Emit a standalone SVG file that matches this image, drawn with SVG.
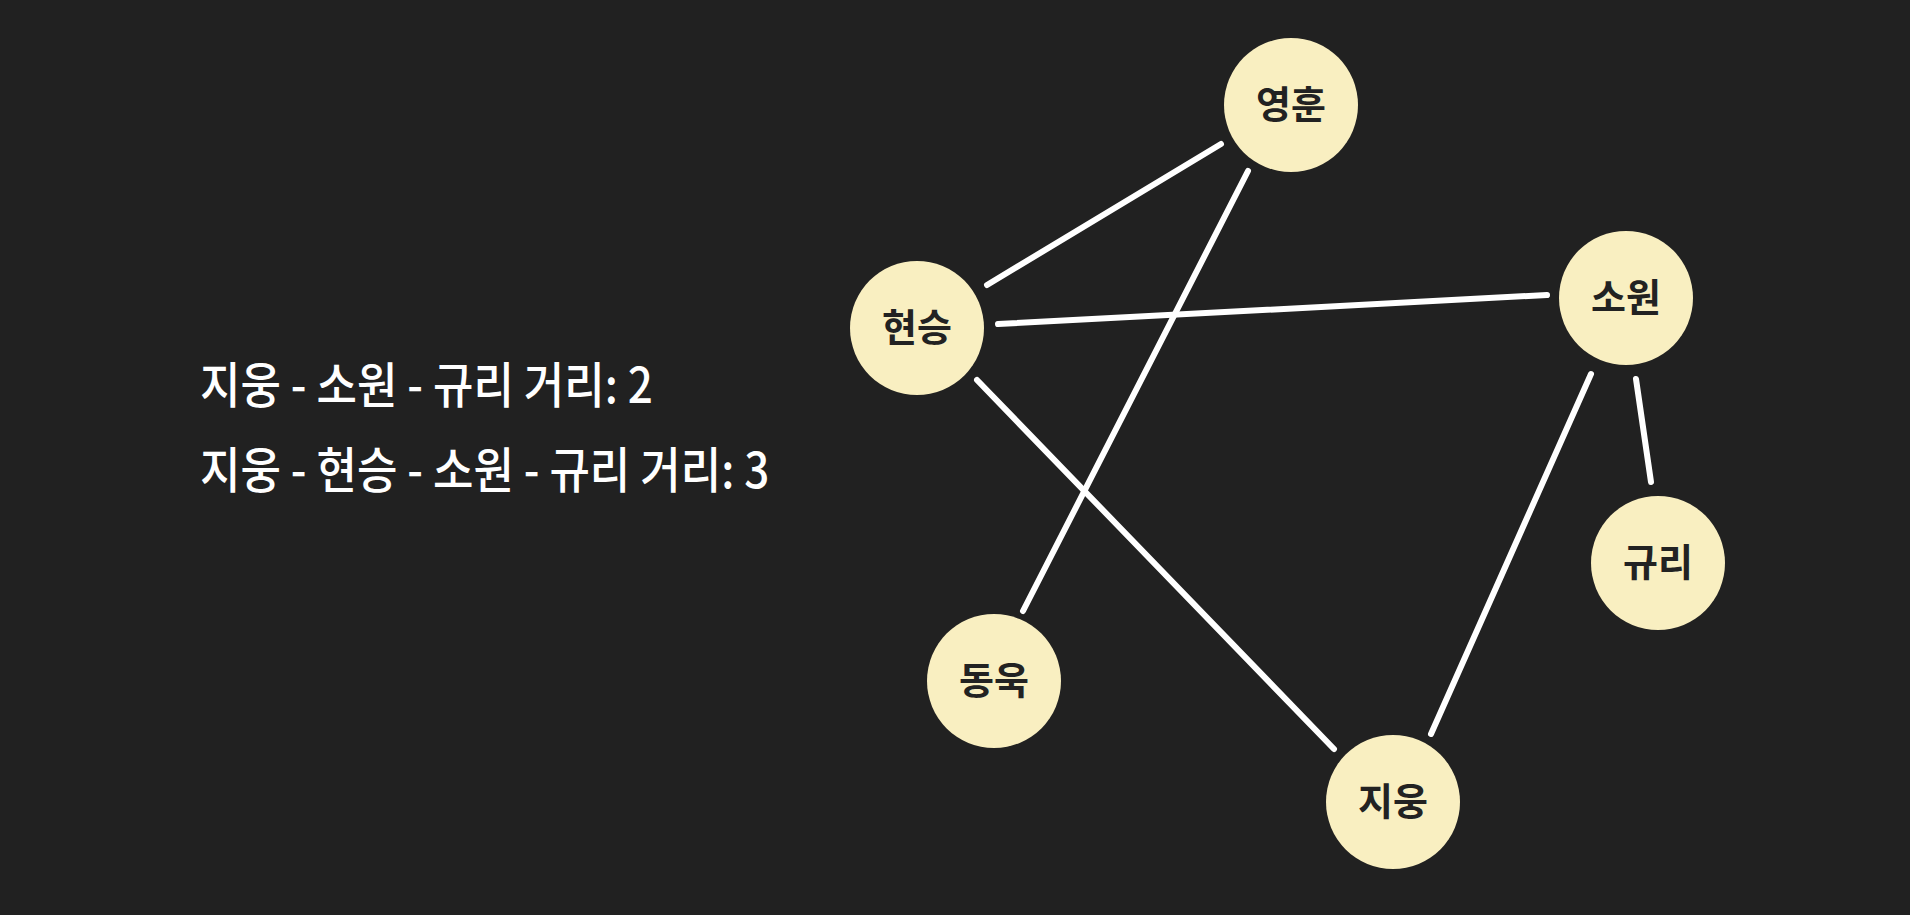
<svg xmlns="http://www.w3.org/2000/svg" width="1910" height="915" viewBox="0 0 1910 915">
<style>
.bg{fill:#212121}
.edge{stroke:#ffffff;stroke-width:6;stroke-linecap:round;fill:none}
.node circle{fill:#f9efc1}
.node text{font-family:"Noto Sans CJK KR","Noto Sans",sans-serif;font-weight:700;font-size:38px;fill:#222222;text-anchor:middle}
.info{font-family:"Noto Sans CJK KR","Noto Sans",sans-serif;font-weight:500;font-size:44px;fill:#ffffff}
</style>
<rect class="bg" x="0" y="0" width="1910" height="915"/>
<g id="info">
<g transform="translate(0,403) scale(1,1.1)"><text class="info" x="200" y="0">지웅 - 소원 - 규리 거리: 2</text></g>
<g transform="translate(0,488) scale(1,1.1)"><text class="info" x="200" y="0">지웅 - 현승 - 소원 - 규리 거리: 3</text></g>
</g>
<g id="connectors">
<line class="edge" x1="987" y1="285" x2="1221" y2="144"/>
<line class="edge" x1="1248" y1="171" x2="1023" y2="611"/>
<line class="edge" x1="998" y1="324" x2="1547" y2="295"/>
<line class="edge" x1="977" y1="380" x2="1334" y2="749"/>
<line class="edge" x1="1591" y1="374" x2="1431" y2="734"/>
<line class="edge" x1="1636" y1="379" x2="1651" y2="482"/>
</g>
<g id="node-younghoon" class="node"><circle cx="1291" cy="105" r="67"/><text x="1291" y="118">영훈</text></g>
<g id="node-hyunseung" class="node"><circle cx="917" cy="328" r="67"/><text x="917" y="341">현승</text></g>
<g id="node-sowon" class="node"><circle cx="1626" cy="298" r="67"/><text x="1626" y="311">소원</text></g>
<g id="node-gyuri" class="node"><circle cx="1658" cy="563" r="67"/><text x="1658" y="576">규리</text></g>
<g id="node-donguk" class="node"><circle cx="994" cy="681" r="67"/><text x="994" y="694">동욱</text></g>
<g id="node-jiwoong" class="node"><circle cx="1393" cy="802" r="67"/><text x="1393" y="815">지웅</text></g>
</svg>
